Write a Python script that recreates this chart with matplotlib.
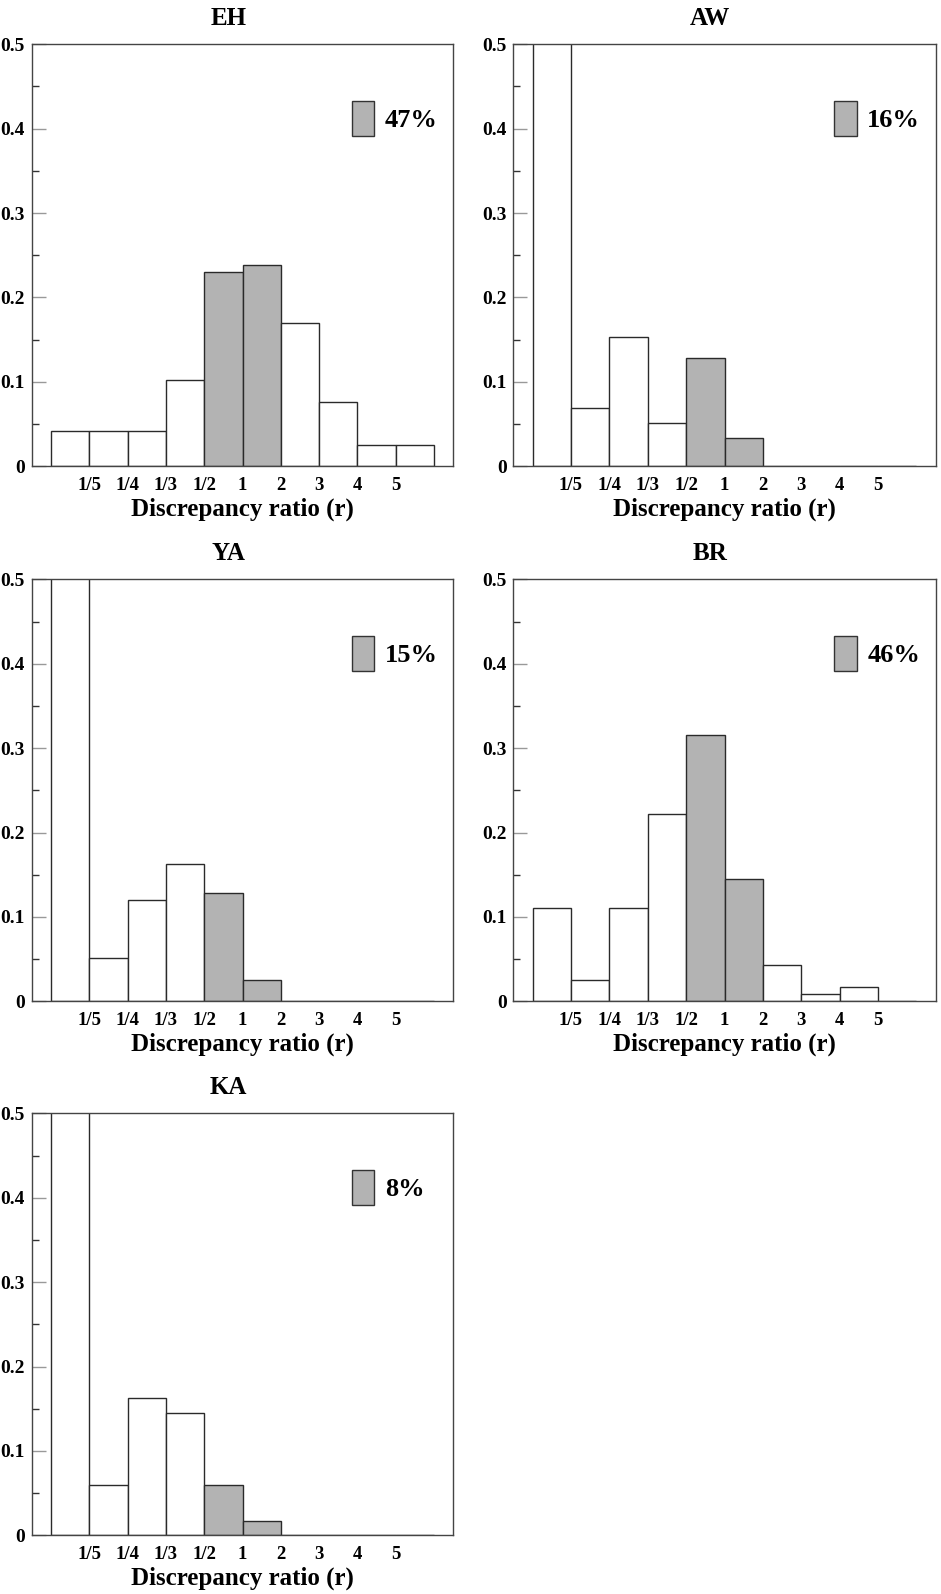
import matplotlib
matplotlib.use("Agg")
import matplotlib.pyplot as plt
from matplotlib.patches import Rectangle
from matplotlib.ticker import MultipleLocator

plt.rcParams['font.family'] = ['Liberation Serif', 'DejaVu Serif']
plt.rcParams['font.weight'] = 'bold'

# ---- data ----
tick_labels = ["1/5", "1/4", "1/3", "1/2", "1", "2", "3", "4", "5"]
panel_names = ["EH", "AW", "YA", "BR", "KA"]
percent_labels = ["47%", "16%", "15%", "46%", "8%"]

eh = [0.042, 0.042, 0.042, 0.102, 0.230, 0.239, 0.170, 0.076, 0.025, 0.025]
aw = [0.565, 0.069, 0.153, 0.051, 0.128, 0.034, 0.0, 0.0, 0.0, 0.0]
ya = [0.512, 0.051, 0.120, 0.163, 0.128, 0.025, 0.0, 0.0, 0.0, 0.0]
br = [0.111, 0.025, 0.111, 0.222, 0.316, 0.145, 0.043, 0.009, 0.017, 0.0]
ka = [0.555, 0.060, 0.163, 0.145, 0.060, 0.017, 0.0, 0.0, 0.0, 0.0]
series = [eh, aw, ya, br, ka]

# indices of highlighted (grey) bins: between 1/2 and 2
highlight = [4, 5]

W, H = 941, 1594
fig = plt.figure(figsize=(W / 100, H / 100), dpi=100)

col_left = [31.7, 513.3]
col_width = [421.6, 422.4]
row_top = [44.3, 579.3, 1113.3]
ax_h = 422.0

grey = "#b3b3b3"
edge = "#2a2a2a"

for k, (name, pct, vals) in enumerate(zip(panel_names, percent_labels, series)):
    r, c = divmod(k, 2)
    left = col_left[c] / W
    bottom = 1 - (row_top[r] + ax_h) / H
    ax = fig.add_axes([left, bottom, col_width[c] / W, ax_h / H])
    xs = list(range(len(vals)))
    colors = [grey if i in highlight else "white" for i in xs]
    ax.bar(xs, vals, width=1.0, align="edge", color=colors,
           edgecolor=edge, linewidth=1.0, zorder=2)
    ax.set_xlim(-0.5, 10.5)
    ax.set_ylim(0, 0.5)
    ax.set_xticks(range(1, 10))
    ax.set_xticklabels(tick_labels, fontsize=13.5, fontweight="bold")
    ax.tick_params(axis="x", length=0, pad=8)
    ax.set_yticks([0, 0.1, 0.2, 0.3, 0.4, 0.5])
    ax.set_yticklabels(["0", "0.1", "0.2", "0.3", "0.4", "0.5"],
                       fontsize=14, fontweight="bold")
    ax.yaxis.set_minor_locator(MultipleLocator(0.05))
    ax.tick_params(axis="y", which="major", direction="in", length=10,
                   width=1, color="#999999", pad=4.8)
    ax.tick_params(axis="y", which="minor", direction="in", length=5,
                   width=1, color="#333333")
    for s in ax.spines.values():
        s.set_color("#444444")
        s.set_linewidth(1.0)
    ax.set_title(name, fontsize=18, fontweight="bold", x=0.466, pad=14)
    ax.set_xlabel("Discrepancy ratio (r)", fontsize=18, fontweight="bold",
                  labelpad=2)
    ax.add_patch(Rectangle((0.759, 0.7833), 0.0536, 0.0823,
                           transform=ax.transAxes, facecolor=grey,
                           edgecolor="#333333", linewidth=1.0, zorder=3))
    ax.text(0.838, 0.8196, pct, transform=ax.transAxes, fontsize=19,
            fontweight="bold", ha="left", va="center")

fig.savefig("out.png", dpi=100)
